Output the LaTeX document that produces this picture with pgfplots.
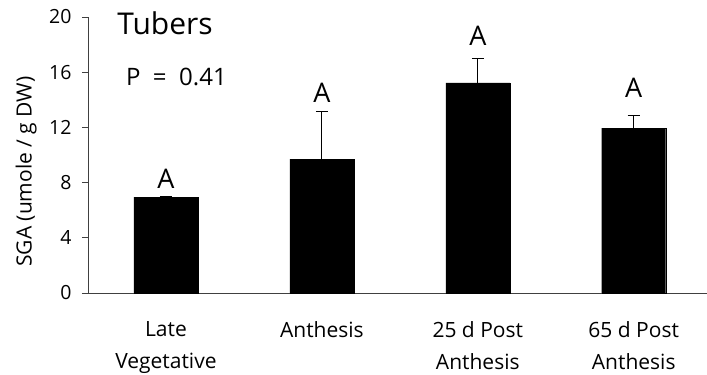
\documentclass[border=0pt]{standalone}
\usepackage{fontspec}
\setmainfont{Open Sans}
\usepackage{pgfplots}
\pgfplotsset{compat=1.18}

\begin{document}
\begin{tikzpicture}
\useasboundingbox (0,0) rectangle (707bp,375bp);
\begin{axis}[
  at={(88bp,82bp)}, anchor=south west,
  scale only axis,
  width=619bp, height=276bp,
  xmin=-0.5, xmax=3.47,
  ymin=0, ymax=20,
  axis lines=left,
  axis line style={-, black!75, line width=0.8bp},
  ytick={0,4,8,12,16,20},
  tick align=outside,
  major tick length=6bp,
  tick style={black!75, line width=0.8bp},
  yticklabel style={font=\fontsize{19.5bp}{22bp}\selectfont, /pgf/number format/assume math mode=true},
  yticklabel shift=7bp,
  xtick={0,1,2,3},
  xticklabels={Late\\Vegetative, Anthesis, 25 d Post\\Anthesis, 65 d Post\\Anthesis},
  xticklabel style={font=\fontsize{21bp}{32bp}\selectfont, align=center, anchor=north, yshift=-19bp},
  x tick style={draw=none},
  extra x ticks={0.5,1.5,2.5},
  extra x tick labels={},
  extra x tick style={tick style={draw=black!75, line width=0.8bp}},
  ylabel={SGA (umole / g DW)},
  ylabel style={font=\fontsize{21bp}{24bp}\selectfont, at={(axis description cs:-0.1,0.44)}, anchor=center},
  clip=false,
]
\addplot[
  ybar, bar width=64bp, fill=black, draw=black,
  error bars/.cd, y dir=plus, y explicit,
  error bar style={line width=1.2bp, black},
  error mark options={rotate=90, mark size=6bp, line width=1.2bp, black},
] coordinates {
  (0,6.95) +- (0,0.0)
  (1,9.70) +- (0,3.46)
  (2,15.23) +- (0,1.74)
  (3,11.94) +- (0,0.91)
};
% significance letters
\node[font=\fontsize{27bp}{30bp}\selectfont, anchor=base] at (axis cs:0,7.6) {A};
\node[font=\fontsize{27bp}{30bp}\selectfont, anchor=base] at (axis cs:1,13.8) {A};
\node[font=\fontsize{27bp}{30bp}\selectfont, anchor=base] at (axis cs:2,17.97) {A};
\node[font=\fontsize{27bp}{30bp}\selectfont, anchor=base] at (axis cs:3,14.2) {A};
% panel title and test result
\node[font=\fontsize{30bp}{34bp}\selectfont, anchor=base] at (axis cs:-0.006,18.7) {Tubers};
\node[font=\fontsize{24bp}{28bp}\selectfont, anchor=base] at (axis cs:0.067,15.0) {P\ \ =\ \ 0.41};
\end{axis}
\end{tikzpicture}
\end{document}
